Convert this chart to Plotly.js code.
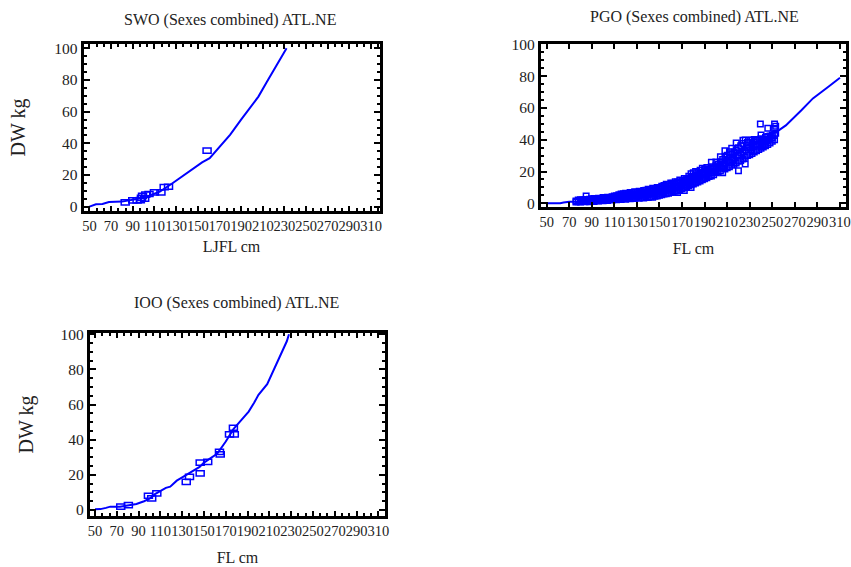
<!DOCTYPE html>
<html><head><meta charset="utf-8">
<script src="https://cdn.plot.ly/plotly-3.0.1.min.js"></script>
<style>
html,body{margin:0;padding:0;background:#fff;overflow:hidden}
#wrap{position:relative;width:851px;height:567px}
.pane{position:absolute}
#swo{left:0;top:0;width:425px;height:280px}
#pgo{left:425px;top:0;width:426px;height:280px}
#ioo{left:0;top:280px;width:425px;height:287px}
</style>
</head><body><div id="wrap"><div id="swo" class="pane"></div><div id="pgo" class="pane"></div><div id="ioo" class="pane"></div></div>
<script>
// ---------------- DATA ----------------
const titles = ['SWO (Sexes combined) ATL.NE', 'PGO (Sexes combined) ATL.NE', 'IOO (Sexes combined) ATL.NE'];
const xTitles = ['LJFL cm', 'FL cm', 'FL cm'];
const yTitle = 'DW kg';
const xTickVals = [50,70,90,110,130,150,170,190,210,230,250,270,290,310];
const yTickVals = [0,20,40,60,80,100];

// fitted curves (length cm -> weight kg)
const swoCurveL = [50,56,62,68,80,86,95,105,115,126,140,150,154,161,170,180,190,200,206,214,222,232];
const swoCurveW = [0,1.5,1.7,2.9,3.2,4,5,7,9.5,14.5,21,25.6,28,30.6,38,45.5,55,64,69.5,79,88,100];
const pgoCurveL = [50,62,65,70,77,80,90,100,110,120,130,140,150,160,170,180,190,200,210,220,230,240,250,256,262,268,276,286,292,300,310];
const pgoCurveW = [0,0,0.5,1,1,1.5,2.5,3.5,4.6,6,7.2,9,10.8,13,15.5,18.5,21,24,27.5,31.5,35.5,40,44,46,49,53,58.7,66,69,73.5,79];
const iooCurveL = [50,55,60,64,73,80,88,95,100,105,110,115,119,125,130,135,140,146,150,155,162,170,177,184,191,196,200,208,215,222,226,228];
const iooCurveW = [0.4,0.5,1.2,1.9,1.9,2.6,3.4,5,6.4,9,11,12.6,13.3,16.7,18.5,20.5,22,24.5,27,29,32,39,46,51,56,61,65.5,71.6,81,90,96,100];

// observed samples
const swoObsL = [83,90,94,97,98,99,101,102,105,110,116,119,123,158.6];
const swoObsW = [2.7,4,4,4.2,5.6,6.8,5,7.6,8,9,9,12.4,12.6,35.4];
const iooObsL = [73.6,80.6,99,102,106.7,133.7,136.7,146.5,146.5,153.4,164.2,164.9,173.4,177.8,177];
const iooObsW = [1.9,2.8,8.1,6.6,9.5,16,18.9,26.9,20.8,27.4,33.1,31.6,43,43,46.8];
const pgoObs = [[76,0.8],[76,1.5],[78,1.0],[78,2.0],[80,0.8],[80,1.6],[80,2.2],[82,1.2],[82,2.0],[84,1.0],[84,2.4],[85,4.6],[86,1.4],[86,2.2],[88,1.0],[88,2.6],[90,1.5],[90,2.8],[92,1.2],[92,2.4],[92,3.0],[94,1.6],[94,2.8],[96,1.4],[96,2.2],[96,3.2],[98,2.0],[98,3.0],[100,1.6],[100,2.6],[100,3.6],[102,2.2],[102,3.4],[104,1.8],[104,2.8],[104,3.8],[106,2.4],[106,3.6],[108,2.0],[108,3.2],[108,4.2],[110,2.6],[110,3.8],[110,4.6],[112,2.2],[112,3.4],[112,4.8],[114,2.8],[114,4.0],[114,5.4],[116,2.4],[116,3.6],[116,5.0],[116,5.8],[118,3.0],[118,4.4],[118,6.0],[120,2.6],[120,3.8],[120,5.2],[120,6.4],[122,3.2],[122,4.6],[122,6.2],[124,2.8],[124,4.2],[124,5.6],[124,6.8],[126,3.4],[126,5.0],[126,6.6],[128,3.0],[128,4.4],[128,5.8],[128,7.2],[130,3.6],[130,5.2],[130,7.0],[132,3.2],[132,4.8],[132,6.4],[132,7.6],[134,3.8],[134,5.6],[134,7.2],[136,3.4],[136,5.0],[136,6.6],[136,8.0],[138,4.0],[138,6.0],[138,8.2],[140,3.6],[140,5.4],[140,7.2],[140,8.8],[142,4.2],[142,6.4],[142,8.6],[144,3.8],[144,5.8],[144,7.8],[144,9.4],[146,4.4],[146,6.6],[146,9.2],[148,4.6],[148,6.2],[148,8.2],[148,10.0],[150,5.0],[150,7.4],[150,9.8],[152,5.4],[152,7.0],[152,9.0],[152,10.8],[154,5.8],[154,8.2],[154,11.2],[156,6.0],[156,7.8],[156,9.8],[156,12.0],[158,6.4],[158,8.8],[158,11.8],[160,6.8],[160,8.6],[160,10.6],[160,12.8],[162,7.2],[162,9.6],[162,12.6],[164,7.6],[164,9.4],[164,11.6],[164,13.6],[166,6.8],[166,8.0],[166,10.6],[166,13.4],[168,8.6],[168,10.4],[168,12.6],[168,14.6],[170,9.2],[170,11.6],[170,14.4],[172,8.0],[172,9.8],[172,11.4],[172,13.6],[172,15.6],[174,10.4],[174,12.8],[174,15.4],[176,11.0],[176,12.6],[176,14.8],[176,17.0],[178,10.0],[178,11.6],[178,14.0],[178,16.6],[178,18.6],[180,12.2],[180,13.8],[180,16.2],[180,19.2],[182,12.8],[182,15.2],[182,17.8],[182,20.0],[184,13.4],[184,15.0],[184,17.4],[184,19.4],[186,14.0],[186,16.4],[186,18.8],[186,20.8],[188,14.8],[188,16.2],[188,18.4],[188,22.0],[190,15.4],[190,17.6],[190,19.8],[190,21.2],[192,16.0],[192,18.2],[192,20.6],[192,22.6],[194,16.8],[194,19.4],[194,21.8],[196,17.2],[196,19.0],[196,23.0],[196,25.8],[198,18.0],[198,20.4],[198,22.2],[200,19.2],[200,21.4],[200,23.6],[200,26.0],[202,19.8],[202,22.6],[202,24.8],[204,20.4],[204,23.2],[204,26.2],[204,29.3],[206,19.3],[206,22.0],[206,24.6],[206,27.6],[208,21.6],[208,25.4],[208,29.0],[208,33.0],[210,22.4],[210,26.8],[210,30.2],[212,23.0],[212,25.6],[212,28.4],[212,32.4],[214,24.0],[214,27.2],[214,30.8],[214,34.6],[216,24.6],[216,28.6],[216,32.2],[218,25.4],[218,29.6],[218,33.6],[218,38.0],[220,20.5],[220,26.4],[220,30.6],[220,35.0],[222,27.0],[222,31.8],[222,36.2],[224,27.8],[224,32.4],[224,37.6],[224,39.6],[226,24.8],[226,29.0],[226,33.6],[226,39.8],[228,30.0],[228,34.8],[228,38.2],[230,30.6],[230,35.4],[230,39.6],[232,31.4],[232,36.2],[232,39.8],[234,32.2],[234,35.6],[234,38.6],[234,40.2],[236,33.0],[236,37.0],[236,39.6],[238,33.8],[238,36.8],[238,40.0],[239.4,49.9],[240,34.6],[240,38.0],[240,40.6],[240,43.0],[242,35.4],[242,37.8],[242,40.2],[244,36.2],[244,37.0],[244,39.0],[244,41.6],[246,37.0],[246,40.0],[246,42.0],[246,47.2],[248,38.0],[248,40.6],[248,42.4],[250,39.0],[250,41.2],[250,43.0],[252,40.0],[252,42.6],[252,47.0],[252,49.9],[253,44.0],[253,48.5]];

// ---------------- DRAWING ----------------
const FONT = 'Liberation Serif';
const TXT = '#222';
const BLUE = '#0000ff';

function xAxis(fx, dom, range, minor, title, standoff) {
  const a = {
    domain: [fx(dom[0]), fx(dom[1])], range: range,
    tickmode: 'array', tickvals: xTickVals, ticktext: xTickVals.map(String),
    ticks: 'inside', ticklen: 5, tickwidth: 2, tickcolor: '#000',
    showline: true, linewidth: 3, linecolor: '#000', mirror: 'ticks',
    showgrid: false, zeroline: false, tickangle: 0, automargin: false,
    tickfont: {family: FONT, size: 14.5, color: TXT},
    title: {text: title, font: {family: FONT, size: 16, color: TXT}, standoff: standoff}
  };
  if (minor) a.minor = {tickmode: 'linear', tick0: 50, dtick: 20/3, ticks: 'inside', ticklen: 3, tickwidth: 1.5, tickcolor: '#000', showgrid: false};
  return a;
}
function yAxis(fy, dom, range, title, standoff) {
  const a = {
    domain: [fy(dom[1]), fy(dom[0])], range: range,
    tickmode: 'array', tickvals: yTickVals, ticktext: yTickVals.map(String),
    ticks: 'inside', ticklen: 6, tickwidth: 2, tickcolor: '#000',
    showline: true, linewidth: 3, linecolor: '#000', mirror: 'ticks',
    showgrid: false, zeroline: false, automargin: false,
    tickfont: {family: FONT, size: 15.5, color: TXT},
    minor: {tickmode: 'linear', tick0: 0, dtick: 5, ticks: 'inside', ticklen: 3, tickwidth: 1.5, tickcolor: '#000', showgrid: false}
  };
  if (title) a.title = {text: title, font: {family: FONT, size: 20, color: TXT}, standoff: standoff};
  return a;
}
function boxes(L, Wt, hw, hh) {
  return L.map((l, i) => ({
    type: 'rect', xref: 'x', yref: 'y', xsizemode: 'pixel', ysizemode: 'pixel',
    xanchor: l, yanchor: Wt[i], x0: -hw, x1: hw, y0: -hh, y1: hh,
    line: {color: BLUE, width: 1.5}, fillcolor: 'rgba(0,0,0,0)', layer: 'above'
  }));
}

// pane: page offset (ox, oy) and size (w, h); positions below are page pixels
function drawPane(id, pane, spec) {
  const fx = v => (v - pane.ox) / pane.w;
  const fy = v => 1 - (v - pane.oy) / pane.h;
  const traces = [{x: spec.curveL, y: spec.curveW, type: 'scatter', mode: 'lines',
                   line: {color: BLUE, width: 2}, hoverinfo: 'x+y', showlegend: false}];
  if (spec.markers) traces.push({x: spec.obsL, y: spec.obsW, type: 'scatter', mode: 'markers',
                   marker: {symbol: 'square-open', size: 5.5, color: BLUE, line: {color: BLUE, width: 1.5}},
                   hoverinfo: 'x+y', showlegend: false});
  const layout = {
    width: pane.w, height: pane.h, margin: {l: 0, r: 0, t: 0, b: 0},
    font: {family: FONT, color: TXT}, showlegend: false,
    paper_bgcolor: '#fff', plot_bgcolor: '#fff',
    xaxis: xAxis(fx, spec.xdom, spec.xrange, spec.minor, spec.xtitle, spec.xstand),
    yaxis: yAxis(fy, spec.ydom, spec.yrange, spec.ytitle, spec.ystand),
    shapes: spec.markers ? [] : boxes(spec.obsL, spec.obsW, 4, 2.6),
    annotations: [{text: spec.title, xref: 'paper', yref: 'paper', x: fx(spec.tpos[0]), y: fy(spec.tpos[1]),
                   xanchor: 'center', yanchor: 'middle', showarrow: false,
                   font: {family: FONT, size: 16, color: TXT}}]
  };
  return Plotly.newPlot(id, traces, layout, {displayModeBar: false});
}

drawPane('swo', {ox: 0, oy: 0, w: 425, h: 280}, {
  curveL: swoCurveL, curveW: swoCurveW, obsL: swoObsL, obsW: swoObsW, markers: false,
  xdom: [83.5, 379.5], xrange: [44.5, 317.8], minor: true, xtitle: xTitles[0], xstand: 8,
  ydom: [44.2, 210.8], yrange: [-2.6, 102.6], ytitle: yTitle, ystand: 24,
  title: titles[0], tpos: [230, 20.5]
});
drawPane('pgo', {ox: 425, oy: 0, w: 426, h: 280}, {
  curveL: pgoCurveL, curveW: pgoCurveW, obsL: pgoObs.map(p => p[0]), obsW: pgoObs.map(p => p[1]), markers: true,
  xdom: [540.8, 846.2], xrange: [44.8, 315.5], minor: false, xtitle: xTitles[1], xstand: 14,
  ydom: [44.2, 206.8], yrange: [-2.2, 100.1], ytitle: '', ystand: 10,
  title: titles[1], tpos: [694, 16.5]
});
drawPane('ioo', {ox: 0, oy: 280, w: 425, h: 287}, {
  curveL: iooCurveL, curveW: iooCurveW, obsL: iooObsL, obsW: iooObsW, markers: false,
  xdom: [89.8, 385.2], xrange: [45.2, 316.3], minor: true, xtitle: xTitles[2], xstand: 14,
  ydom: [333.2, 515.8], yrange: [-3.3, 100.6], ytitle: yTitle, ystand: 22,
  title: titles[2], tpos: [236, 302.5]
});
</script></body></html>
